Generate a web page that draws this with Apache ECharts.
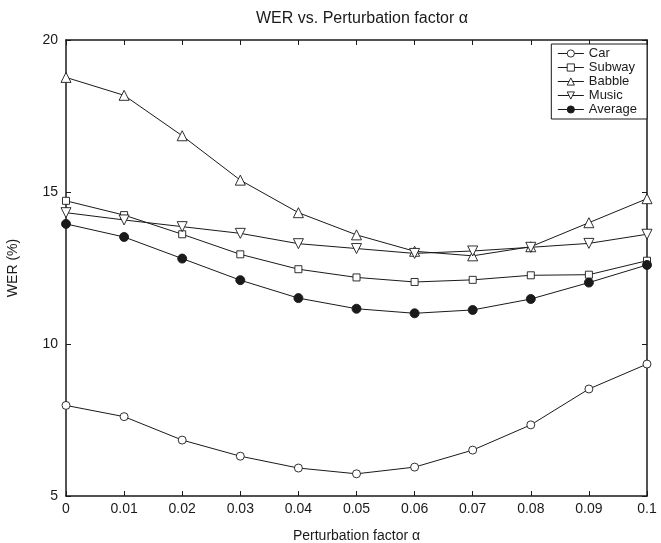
<!DOCTYPE html>
<html><head><meta charset="utf-8">
<script src="https://cdn.jsdelivr.net/npm/echarts@6/dist/echarts.min.js"></script>
<style>html,body{margin:0;padding:0;background:#fff}#c{width:661px;height:543px}</style>
</head><body><div id="c"></div>
<script>
const alpha = [0, 0.01, 0.02, 0.03, 0.04, 0.05, 0.06, 0.07, 0.08, 0.09, 0.1];
const car     = [7.98, 7.61, 6.84, 6.31, 5.92, 5.73, 5.95, 6.51, 7.34, 8.52, 9.34];
const subway  = [14.71, 14.24, 13.61, 12.95, 12.46, 12.19, 12.04, 12.11, 12.26, 12.28, 12.74];
const babble  = [18.77, 18.18, 16.85, 15.39, 14.32, 13.59, 13.05, 12.9, 13.2, 13.99, 14.78];
const music   = [14.32, 14.08, 13.86, 13.64, 13.3, 13.14, 12.98, 13.06, 13.18, 13.31, 13.61];
const average = [13.95, 13.52, 12.81, 12.1, 11.51, 11.16, 11.01, 11.12, 11.48, 12.02, 12.6];
const seriesNames = ['Car', 'Subway', 'Babble', 'Music', 'Average'];
const yTicks = [5, 10, 15, 20];

const FONT = 'Liberation Sans';
const INK = '#1a1a1a';
const pairs = arr => arr.map((v, i) => [alpha[i], v]);
function mk(name, data, symbol, size, rot, fill) {
  return {
    name, type: 'line', data: pairs(data), symbol, symbolSize: size, symbolRotate: rot || 0,
    lineStyle: { color: INK, width: 1 },
    itemStyle: { color: fill || '#fff', borderColor: INK, borderWidth: 0.9 },
    emphasis: { disabled: true }, animation: false, z: 3
  };
}
const chart = echarts.init(document.getElementById('c'));
const baseX = {
  type: 'value', min: 0, max: 0.1, interval: 0.01,
  axisLine: { show: true, onZero: false, lineStyle: { color: INK, width: 1.5 } },
  axisTick: { show: true, inside: true, length: 5, lineStyle: { color: INK } },
  splitLine: { show: false }
};
const baseY = {
  type: 'value', min: yTicks[0], max: yTicks[yTicks.length - 1], interval: 5,
  axisLine: { show: true, onZero: false, lineStyle: { color: INK, width: 1.5 } },
  axisTick: { show: true, inside: true, length: 5, lineStyle: { color: INK } },
  splitLine: { show: false }
};
chart.setOption({
  backgroundColor: '#fff',
  animation: false,
  title: {
    text: 'WER vs. Perturbation factor α', left: 357, textAlign: 'center', top: 6,
    textStyle: { fontFamily: FONT, fontSize: 16, fontWeight: 'normal', color: INK }
  },
  grid: { left: 66, right: 14, top: 40, bottom: 47, containLabel: false, outerBoundsMode: 'none' },
  legend: {
    orient: 'vertical', right: 14, top: 44,
    data: seriesNames,
    backgroundColor: '#fff', borderColor: INK, borderWidth: 1,
    padding: [3, 10, 3, 6], itemGap: 1, itemWidth: 26, itemHeight: 9,
    itemStyle: { borderWidth: 0.9 },
    lineStyle: { width: 1 },
    textStyle: { fontFamily: FONT, fontSize: 13, color: INK, padding: [0, 0, 0, 0] }
  },
  xAxis: [
    Object.assign({}, baseX, {
      position: 'bottom',
      name: 'Perturbation factor α', nameLocation: 'middle', nameGap: 33,
      nameTextStyle: { fontFamily: FONT, fontSize: 14, color: INK },
      axisLabel: { fontFamily: FONT, fontSize: 14, color: INK, margin: 6,
        formatter: v => String(+v.toFixed(2)) }
    }),
    Object.assign({}, baseX, { position: 'top', axisLabel: { show: false } })
  ],
  yAxis: [
    Object.assign({}, baseY, {
      position: 'left',
      name: 'WER (%)', nameLocation: 'middle', nameGap: 46,
      nameTextStyle: { fontFamily: FONT, fontSize: 14, color: INK },
      axisLabel: { fontFamily: FONT, fontSize: 14, color: INK, margin: 8 }
    }),
    Object.assign({}, baseY, { position: 'right', axisLabel: { show: false } })
  ],
  series: [
    mk('Car', car, 'circle', 8),
    mk('Subway', subway, 'rect', 7),
    mk('Babble', babble, 'triangle', 10),
    mk('Music', music, 'triangle', 10, 180),
    mk('Average', average, 'circle', 9, 0, INK)
  ]
});
</script></body></html>
